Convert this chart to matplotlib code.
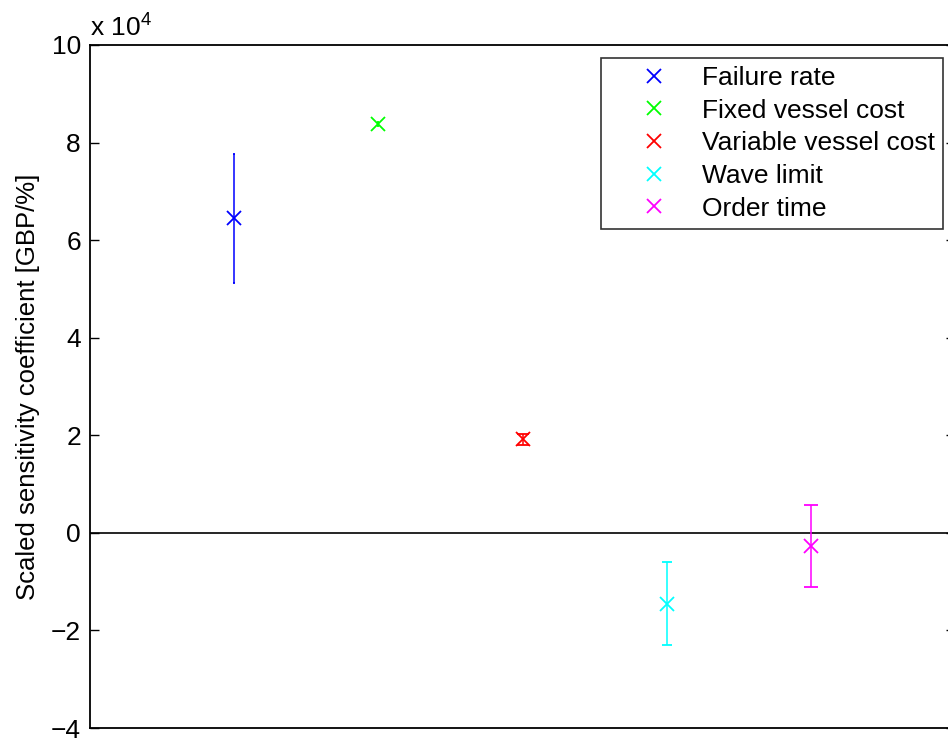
import matplotlib
matplotlib.use("Agg")
import matplotlib.pyplot as plt
import numpy as np

plt.rcParams['font.family'] = ['Liberation Sans', 'DejaVu Sans']
plt.rcParams['mathtext.default'] = 'regular'

# Data (GBP/%)
labels = ['Failure rate', 'Fixed vessel cost', 'Variable vessel cost', 'Wave limit', 'Order time']
positions = [1, 2, 3, 4, 5]
values = [64500, 83800, 19200, -14500, -2700]
errors = [13200, 500, 1100, 8500, 8500]
colors = ['#0000ff', '#00ff00', '#ff0000', '#00ffff', '#ff00ff']
capsizes = [1.0, 1.0, 4.3, 3.6, 5.0]
scale = 1e4
yticks = [-4, -2, 0, 2, 4, 6, 8, 10]

fig = plt.figure(figsize=(9.48, 7.42), dpi=100)
ax = fig.add_axes([90/948, 1-728/742, 865/948, 683/742])

handles = []
for x, v, e, c, cs, lab in zip(positions, values, errors, colors, capsizes, labels):
    cont = ax.errorbar([x], [v/scale], yerr=[e/scale], fmt='x', color=c,
                       ecolor=c, elinewidth=1.1, capsize=cs, capthick=1.1,
                       markersize=9.5, markeredgewidth=1.3, label=lab)
    handles.append(cont[0])

ax.axhline(0, color='black', linewidth=1.2, zorder=0)

ax.set_xlim(0, 6)
ax.set_ylim(-4, 10)
ax.set_xticks([])
ax.set_yticks(yticks)
ax.set_yticklabels([f"{t}".replace('-', '\u2212') for t in yticks])
ax.tick_params(axis='y', direction='in', length=6.5, width=1.0, labelsize=19,
               pad=6.5, left=True, right=True)
for s in ax.spines.values():
    s.set_linewidth(1.3)

ax.set_ylabel('Scaled sensitivity coefficient [GBP/%]', fontsize=18.5, labelpad=8)

ax.text(0.0, 1.005, r'x 10$^{4}$', transform=ax.transAxes, fontsize=19,
        ha='left', va='bottom')

leg = ax.legend(handles=handles, labels=labels, loc='upper right',
                bbox_to_anchor=(0.986, 0.981), borderaxespad=0, fontsize=19,
                frameon=True, fancybox=False, edgecolor='black',
                handlelength=3.4, handletextpad=0.13, labelspacing=0.33,
                borderpad=0.3)
leg.get_frame().set_linewidth(1.2)

fig.savefig('out.png', dpi=100)
